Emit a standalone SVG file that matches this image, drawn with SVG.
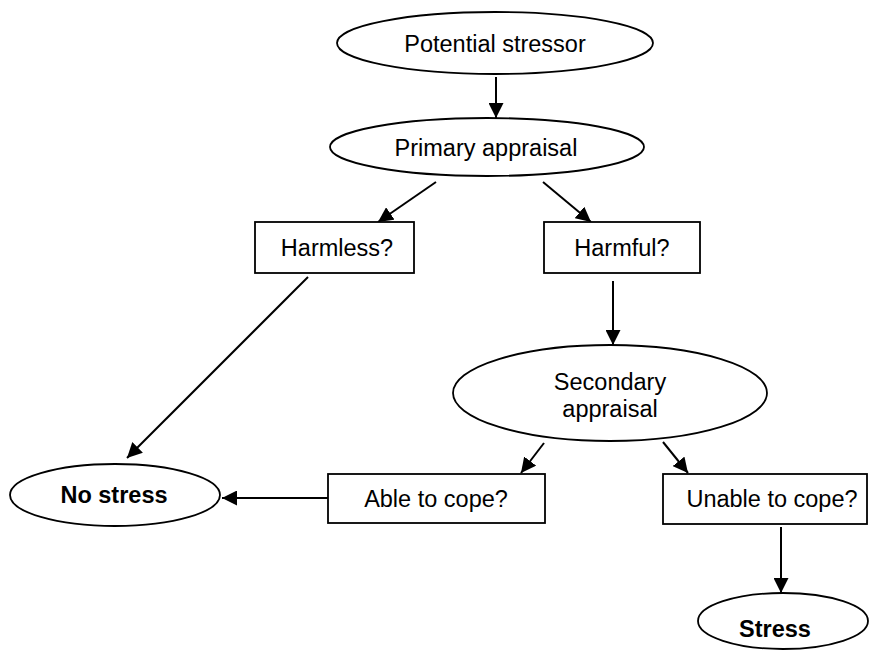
<svg xmlns="http://www.w3.org/2000/svg" width="869" height="652" viewBox="0 0 869 652">
<defs>
<marker id="ah" markerUnits="userSpaceOnUse" markerWidth="15" markerHeight="15" refX="15" refY="7.5" orient="auto">
<path d="M0,0 L15,7.5 L0,15 z" fill="#000"/>
</marker>
<style>
.n{fill:#fff;stroke:#000;stroke-width:1.8}
.t{font-family:"Liberation Sans",Arial,sans-serif;font-size:23.5px;text-anchor:middle;fill:#000}
.b{font-weight:bold}
.c{stroke:#000;stroke-width:2;fill:none;marker-end:url(#ah)}
</style>
</defs>
<rect width="869" height="652" fill="#fff"/>
<g id="connectors">
<line class="c" x1="496" y1="77" x2="496" y2="118"/>
<line class="c" x1="436" y1="182" x2="378" y2="222"/>
<line class="c" x1="543" y1="182" x2="591" y2="222"/>
<line class="c" x1="613" y1="281" x2="613" y2="345"/>
<line class="c" x1="308" y1="277" x2="127" y2="458"/>
<line class="c" x1="544" y1="443" x2="521" y2="473"/>
<line class="c" x1="663" y1="442" x2="688" y2="473"/>
<line class="c" x1="328" y1="498" x2="222" y2="498"/>
<line class="c" x1="781" y1="527" x2="781" y2="593"/>
</g>
<g id="potential-stressor">
<ellipse class="n" cx="495" cy="43" rx="158" ry="31"/>
<text class="t" x="495" y="52">Potential stressor</text>
</g>
<g id="primary-appraisal">
<ellipse class="n" cx="487" cy="147" rx="157" ry="29"/>
<text class="t" x="486" y="156">Primary appraisal</text>
</g>
<g id="harmless">
<rect class="n" x="255" y="222" width="159" height="51"/>
<text class="t" x="337" y="256">Harmless?</text>
</g>
<g id="harmful">
<rect class="n" x="544" y="222" width="156" height="51"/>
<text class="t" x="622" y="256">Harmful?</text>
</g>
<g id="secondary-appraisal">
<ellipse class="n" cx="610" cy="393" rx="157" ry="48"/>
<text class="t" x="610" y="390">Secondary</text>
<text class="t" x="610" y="417">appraisal</text>
</g>
<g id="no-stress">
<ellipse class="n" cx="115" cy="495" rx="105" ry="31"/>
<text class="t b" x="114" y="503">No stress</text>
</g>
<g id="able-to-cope">
<rect class="n" x="328" y="474" width="217" height="49"/>
<text class="t" x="436" y="507">Able to cope?</text>
</g>
<g id="unable-to-cope">
<rect class="n" x="663" y="474" width="204" height="50"/>
<text class="t" x="772" y="507">Unable to cope?</text>
</g>
<g id="stress">
<ellipse class="n" cx="783" cy="621" rx="85" ry="28"/>
<text class="t b" x="775" y="637">Stress</text>
</g>
</svg>
